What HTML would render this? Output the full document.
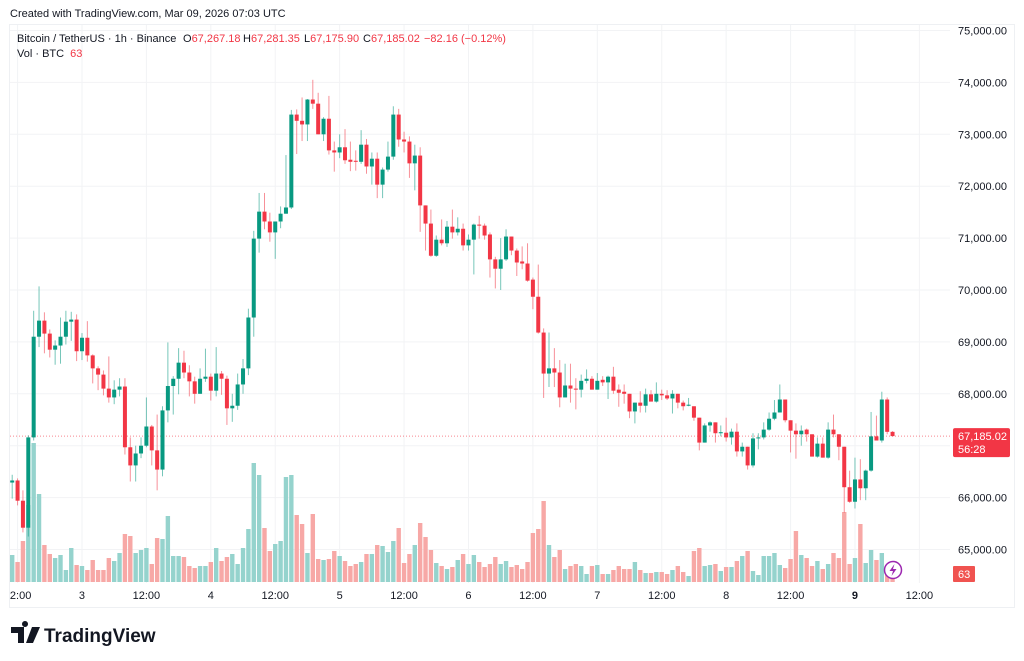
<!DOCTYPE html>
<html><head><meta charset="utf-8"><title>BTCUSDT 1h</title>
<style>
html,body{margin:0;padding:0;background:#fff;}
svg{display:block;font-family:"Liberation Sans",sans-serif;}
</style></head>
<body>
<svg id="chart" width="1024" height="661" viewBox="0 0 1024 661" xmlns="http://www.w3.org/2000/svg">
  <rect x="0" y="0" width="1024" height="661" fill="#ffffff"/>
  <text x="10" y="17" font-size="11" fill="#131722">Created with TradingView.com, Mar 09, 2026 07:03 UTC</text>
  <rect x="9.5" y="24.5" width="1005" height="583" fill="none" stroke="#eef0f3"/>
  <g id="grid"></g>
  <g id="vol"></g>
  <g id="candles"></g>
  <g id="yaxis"></g>
  <g id="xaxis"></g>
  <g font-size="11">
    <text x="17" y="42" fill="#131722">Bitcoin / TetherUS · 1h · Binance</text>
    <text x="183" y="42" fill="#131722">O<tspan fill="#f23645">67,267.18</tspan></text>
    <text x="243" y="42" fill="#131722">H<tspan fill="#f23645">67,281.35</tspan></text>
    <text x="304" y="42" fill="#131722">L<tspan fill="#f23645">67,175.90</tspan></text>
    <text x="363" y="42" fill="#131722">C<tspan fill="#f23645">67,185.02</tspan></text>
    <text x="424" y="42" fill="#f23645">−82.16 (−0.12%)</text>
    <text x="17" y="57" fill="#131722">Vol · BTC <tspan fill="#f23645" dx="3">63</tspan></text>
  </g>
  <g>
    <path d="M11 627h13v16h-6v-10h-7z M25 627a3 3 0 1 1 0.01 0z M32 627h8l-7 16h-7z" fill="#131722"/>
    <text x="44" y="642" font-size="19" font-weight="bold" fill="#131722">TradingView</text>
  </g>
</svg>
<script>
const opens=[66290,66330,65940,65420,67160,69100,69410,69160,68850,68930,69100,69390,69430,68820,69080,68740,68490,68370,68100,67930,68080,68140,66970,66620,66850,67000,67370,66910,66540,67680,68150,68290,68600,68410,68240,68000,68290,68330,68060,68390,68290,67720,67770,68180,68490,69470,70990,71510,71320,71110,71320,71470,71590,73380,73260,73190,73670,73590,73000,73300,72690,72650,72750,72510,72490,72470,72800,72380,72530,72030,72320,72570,73380,72900,72860,72440,72590,71630,71280,70660,70970,70900,71220,71110,71180,70860,70970,71260,71240,71070,70590,70410,70590,71030,70760,70550,70510,70200,69870,69180,68390,68490,68410,67930,68160,68100,68080,68250,68290,68080,68270,68220,68330,68080,68040,68000,67660,67830,67770,67990,67850,68000,67970,67910,68000,67830,67770,67760,67540,67060,67390,67450,67240,67250,67160,67270,66890,66980,66620,67140,67160,67310,67520,67640,67890,67490,67290,67220,67310,67220,66790,67040,66770,67310,67220,66980,66200,65920,66350,66180,66520,67180,67100,67890,67267.18];
const highs=[66440,66370,66140,67200,69600,70070,69570,69240,69030,69470,69600,69580,69530,69170,69400,68760,68530,68450,68720,68260,68300,68300,67160,67000,67160,67930,67400,67600,67760,68990,68340,68880,68830,68550,68330,68490,68870,68390,68900,68440,68350,68000,68390,68670,69640,71140,71870,71870,71490,71320,71610,72600,73470,73480,73710,73680,74050,73800,73330,73740,72860,73000,73100,72860,72690,73080,72910,72650,72650,72360,72860,73540,73490,73050,72960,72800,72750,71630,71550,71050,71360,71330,71550,71400,71280,71070,71280,71430,71280,71110,70640,71000,71170,71030,70800,70840,70900,70240,70490,69260,69180,68880,68650,68580,68580,68300,68370,68470,68340,68400,68340,68350,68520,68180,68180,68000,67830,68050,68100,68070,68220,68080,68070,68070,68000,67870,67920,67760,67540,67430,67470,67450,67390,67540,67330,67430,67060,66980,67240,67240,67450,67640,67880,68180,67890,67490,67430,67390,67330,67220,67160,67160,67450,67600,67220,66980,66520,66770,66740,66540,67650,67580,68040,67930,67281.35];
const lows=[65980,65850,65330,65250,67100,68900,68780,68700,68560,68580,68950,69020,68630,68650,68620,68200,68070,67970,67830,67800,67950,66830,66310,66310,66760,66970,66620,66140,66410,67450,67600,67990,68300,67950,67810,68000,68230,67870,67950,67980,67400,67460,67690,68000,68360,69100,70720,71170,70930,70600,71190,71470,71560,72620,72870,72870,73490,73000,72870,72610,72280,72540,72430,72290,72300,72430,72240,72030,71770,71770,72280,72510,72760,72650,72160,71920,71120,70760,70640,70640,70860,70830,70990,71050,70760,70760,70300,70990,70970,70240,70030,70000,70560,70670,70270,70400,70160,69630,69160,67920,68130,68130,67740,67930,67830,67700,67930,68200,68080,68080,68150,67900,68000,67750,67810,67530,67430,67640,67640,67850,67830,67880,67880,67620,67720,67680,67760,67480,66910,67060,67270,67060,67180,67080,67020,66790,66790,66540,66580,66930,67120,67290,67490,67640,67450,66870,66750,67000,67080,66790,66770,66770,66750,67160,66720,65710,65900,65790,65950,65950,66500,67100,67060,67220,67175.90];
const closes=[66330,65940,65420,67160,69100,69410,69160,68850,68930,69100,69390,69430,68820,69080,68740,68490,68370,68100,67930,68080,68140,66970,66620,66850,67000,67370,66910,66540,67680,68150,68290,68600,68410,68240,68000,68290,68330,68060,68390,68290,67720,67770,68180,68490,69470,70990,71510,71320,71110,71320,71470,71590,73380,73260,73190,73670,73590,73000,73300,72690,72650,72750,72500,72470,72470,72800,72380,72530,72030,72320,72570,73380,72900,72860,72440,72590,71630,71280,70660,70970,70900,71220,71110,71180,70860,70970,71260,71240,71050,70590,70410,70590,71030,70760,70530,70510,70180,69870,69180,68390,68490,68410,67930,68160,68100,68080,68250,68290,68080,68250,68220,68330,68060,68020,68000,67660,67830,67770,67990,67850,68000,67970,67910,68000,67830,67760,67790,67540,67060,67390,67450,67240,67260,67160,67270,66890,66980,66620,67140,67160,67310,67520,67640,67890,67490,67290,67220,67290,67220,66790,67040,66770,67310,67220,66980,66200,65920,66350,66180,66520,67180,67100,67890,67267.18,67185.02];
const volumes=[432,320,656,1232,2224,1408,592,448,384,432,192,544,272,256,192,352,192,192,384,336,464,768,736,464,512,544,288,704,688,1056,416,416,400,256,224,256,256,320,544,336,400,448,288,544,848,1904,1712,864,496,608,656,1680,1712,1072,928,464,1088,368,352,368,496,416,336,256,288,320,448,448,592,576,480,656,864,304,448,592,944,720,512,304,256,208,240,352,448,288,432,320,240,288,400,288,336,240,272,208,320,784,848,1296,592,400,512,208,256,288,256,128,256,272,128,128,192,256,208,208,320,192,144,144,160,160,128,192,256,160,96,496,544,256,272,288,176,240,240,336,416,496,176,112,416,416,464,272,224,368,816,432,384,256,336,208,288,464,384,1120,288,384,928,304,512,352,464,240,63];
const priceTicks=[75000,74000,73000,72000,71000,70000,69000,68000,67000,66000,65000];
const timeTickLabels=["12:00","3","12:00","4","12:00","5","12:00","6","12:00","7","12:00","8","12:00","9","12:00"];
const timeTickHours=[1,13,25,37,49,61,73,85,97,109,121,133,145,157,169];
const lastPrice=67185.02;
const countdown="56:28";
const lastVolume=63;

const NS="http://www.w3.org/2000/svg";
const UP="#089981", DN="#f23645", UPV="#95d3cd", DNV="#f7a8a6";
function xScale(i){return 12.2+i*5.368;}
function yScale(p){return 30.5+(75000-p)*0.0519;}
function vScale(v){return v/16;}
const VBASE=582;
function mk(tag,attrs,parent){const e=document.createElementNS(NS,tag);for(const k in attrs)e.setAttribute(k,attrs[k]);parent.appendChild(e);return e;}

const grid=document.getElementById('grid');
priceTicks.forEach(p=>{
  const l=mk('line',{x1:10,x2:950,y1:yScale(p),y2:yScale(p),stroke:'#f2f3f5','stroke-width':1},grid);
  
  
});
timeTickHours.forEach(h=>{
  const l=mk('line',{x1:xScale(h),x2:xScale(h),y1:25,y2:583,stroke:'#f2f3f5','stroke-width':1},grid);
  
  
});

const vol=document.getElementById('vol');
volumes.forEach((v,i)=>{
  const up=closes[i]>=opens[i];
  const h=vScale(v);
  const r=mk('rect',{x:xScale(i)-2.2,y:VBASE-h,width:4.4,height:h,fill:up?UPV:DNV},vol);
  
  
});

// current price line
const pl=mk('line',{x1:10,x2:950,y1:yScale(lastPrice),y2:yScale(lastPrice),stroke:DN,'stroke-width':1,'stroke-dasharray':'1 2',opacity:0.6},grid);



const cg=document.getElementById('candles');
opens.forEach((o,i)=>{
  const c=closes[i], up=c>=o, col=up?UP:DN, x=xScale(i);
  const g=mk('g',{},cg);
  
  
  mk('line',{x1:x,x2:x,y1:yScale(highs[i]),y2:yScale(lows[i]),stroke:col,'stroke-width':1,opacity:0.55},g);
  const top=yScale(Math.max(o,c)), bot=yScale(Math.min(o,c));
  mk('rect',{x:x-2,y:top,width:4,height:Math.max(1,bot-top),fill:col},g);
});

const ya=document.getElementById('yaxis');
priceTicks.forEach(p=>{
  const t=mk('text',{x:958,y:yScale(p)+4,'font-size':11,fill:'#131722'},ya);
  t.textContent=p.toLocaleString('en-US',{minimumFractionDigits:2});
  
  
});
const py=yScale(lastPrice);
const pb=mk('rect',{x:953,y:py-8,width:57,height:29,rx:2,fill:DN},ya);


const pt=mk('text',{x:958,y:py+4,'font-size':11,fill:'#fff'},ya);
pt.textContent=lastPrice.toLocaleString('en-US',{minimumFractionDigits:2});


const ct=mk('text',{x:958,y:py+17,'font-size':11,fill:'#fff'},ya);
ct.textContent=countdown;


const vb=mk('rect',{x:953,y:VBASE-16,width:22,height:16,rx:1,fill:'#f05350'},ya);


const vt=mk('text',{x:958,y:VBASE-4,'font-size':11,fill:'#fff'},ya);
vt.textContent=String(lastVolume);



// lightning icon
const ic=mk('g',{},cg);


mk('circle',{cx:893,cy:570,r:8.5,fill:'#fff',stroke:'#9c27b0','stroke-width':1.5},ic);
mk('path',{d:'M894.5 564 L889.5 571 H893 L891.5 576 L896.5 569 H893 Z',fill:'#9c27b0'},ic);

const xa=document.getElementById('xaxis');
const cp=mk('clipPath',{id:'xclip'},xa);
mk('rect',{x:10,y:583,width:1004,height:24},cp);
const xl=mk('g',{'clip-path':'url(#xclip)'},xa);
timeTickLabels.forEach((lab,k)=>{
  const bold=(k===13);
  const t=mk('text',{x:xScale(timeTickHours[k]),y:599,'font-size':11,fill:'#131722','text-anchor':'middle','font-weight':bold?'bold':'normal'},xl);
  t.textContent=lab;
  
  
});
</script>
</body></html>
